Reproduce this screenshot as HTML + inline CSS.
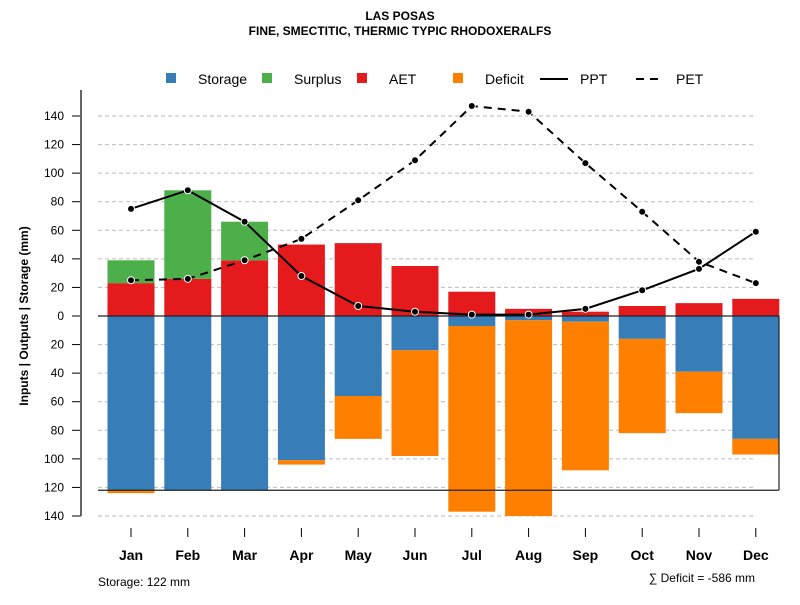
<!DOCTYPE html>
<html><head><meta charset="utf-8">
<style>
body{margin:0;background:#fff;}
svg{font-family:"Liberation Sans",sans-serif;}
</style></head>
<body>
<svg id="chart" width="800" height="600" xmlns="http://www.w3.org/2000/svg">
<text x="400" y="20" text-anchor="middle" font-size="12" font-weight="bold">LAS POSAS</text>
<text x="400" y="35" text-anchor="middle" font-size="12" font-weight="bold">FINE, SMECTITIC, THERMIC TYPIC RHODOXERALFS</text>
<g id="grid"></g>
<g id="bars"></g>
<g id="lines"></g>
<g id="axes"></g>
<g font-size="14">
<rect x="166" y="73" width="10" height="10" fill="#377eb8"/>
<text x="198" y="84">Storage</text>
<rect x="262" y="73" width="10" height="10" fill="#4daf4a"/>
<text x="294" y="84">Surplus</text>
<rect x="357" y="73" width="10" height="10" fill="#e41a1c"/>
<text x="389" y="84">AET</text>
<rect x="453" y="73" width="10" height="10" fill="#ff7f00"/>
<text x="485" y="84">Deficit</text>
<line x1="540" y1="79" x2="568" y2="79" stroke="#000" stroke-width="2"/>
<text x="580" y="84">PPT</text>
<line x1="636" y1="79" x2="664" y2="79" stroke="#000" stroke-width="2" stroke-dasharray="8,6"/>
<text x="676" y="84">PET</text>
</g>
<text transform="translate(28,316) rotate(-90)" text-anchor="middle" font-size="12" font-weight="bold">Inputs | Outputs | Storage    (mm)</text>
<text x="98" y="586" font-size="12">Storage: 122 mm</text>
<text x="755" y="582" text-anchor="end" font-size="12">∑ Deficit = -586 mm</text>
</svg>
<script>
const months=["Jan","Feb","Mar","Apr","May","Jun","Jul","Aug","Sep","Oct","Nov","Dec"];
const aet=[23,26,39,50,51,35,17,5,3,7,9,12];
const surplus=[16,62,27,0,0,0,0,0,0,0,0,0];
const storage=[122,122,122,101,56,24,7,3,4,16,39,86];
const deficit=[2,0,0,3,30,74,130,137,104,66,29,11];
const ppt=[75,88,66,28,7,3,1,1,5,18,33,59];
const pet=[25,26,39,54,81,109,147,143,107,73,38,23];
const yTicks=[-140,-120,-100,-80,-60,-40,-20,0,20,40,60,80,100,120,140];
const capacity=122;
const NS="http://www.w3.org/2000/svg";
const y=v=>316-v*200/140;
const x=i=>131+i*56.8;
const bw=47;
function mk(tag,attrs,parent){const e=document.createElementNS(NS,tag);for(const k in attrs)e.setAttribute(k,attrs[k]);document.getElementById(parent).appendChild(e);return e;}
yTicks.forEach(t=>{
 if(t!==0){const g=mk('line',{x1:98,x2:755,y1:y(t),y2:y(t),stroke:'#bbb','stroke-dasharray':'4,3'},'grid');
 
 }
 const tk=mk('line',{x1:72,x2:81,y1:y(t),y2:y(t),stroke:'#000'},'axes');
 
 
 const tl=mk('text',{x:64,y:y(t)+4,'text-anchor':'end','font-size':12},'axes');
 tl.textContent=Math.abs(t);
 
 
});
const ya=mk('line',{x1:81,x2:81,y1:90,y2:516,stroke:'#666','stroke-width':2},'axes');


months.forEach((m,i)=>{
 const cx=x(i),l=cx-bw/2;
 const segs=[['aet',0,aet[i],'#e41a1c'],['surplus',aet[i],aet[i]+surplus[i],'#4daf4a'],['storage',-storage[i],0,'#377eb8'],['deficit',-storage[i]-deficit[i],-storage[i],'#ff7f00']];
 segs.forEach(s=>{if(s[2]-s[1]<=0)return;
  const r=mk('rect',{x:l,y:y(s[2]),width:bw,height:y(s[1])-y(s[2]),fill:s[3]},'bars');
  
  });
 const tk=mk('line',{x1:cx,x2:cx,y1:528,y2:537,stroke:'#000'},'axes');
 
 
 const tl=mk('text',{x:cx,y:560,'text-anchor':'middle','font-size':14,'font-weight':'bold'},'axes');
 tl.textContent=m;
 
 
});
[[0],[-capacity]].forEach(v=>{const l=mk('line',{x1:98,x2:779,y1:y(v[0]),y2:y(v[0]),stroke:'#222','stroke-width':1.2},'bars');
 
 });
const rv=mk('line',{x1:779,x2:779,y1:y(0),y2:y(-capacity),stroke:'#222','stroke-width':1.2},'bars');


[[ppt,'ppt',''],[pet,'pet','8,6']].forEach(s=>{
 const p=mk('polyline',{points:s[0].map((v,i)=>x(i)+','+y(v)).join(' '),fill:'none',stroke:'#000','stroke-width':2,'stroke-dasharray':s[2]},'lines');
 
 
 s[0].forEach((v,i)=>{const c=mk('circle',{cx:x(i),cy:y(v),r:3.5,fill:'#000',stroke:'#fff','stroke-width':1},'lines');
  
  });
});
</script>
</body></html>
